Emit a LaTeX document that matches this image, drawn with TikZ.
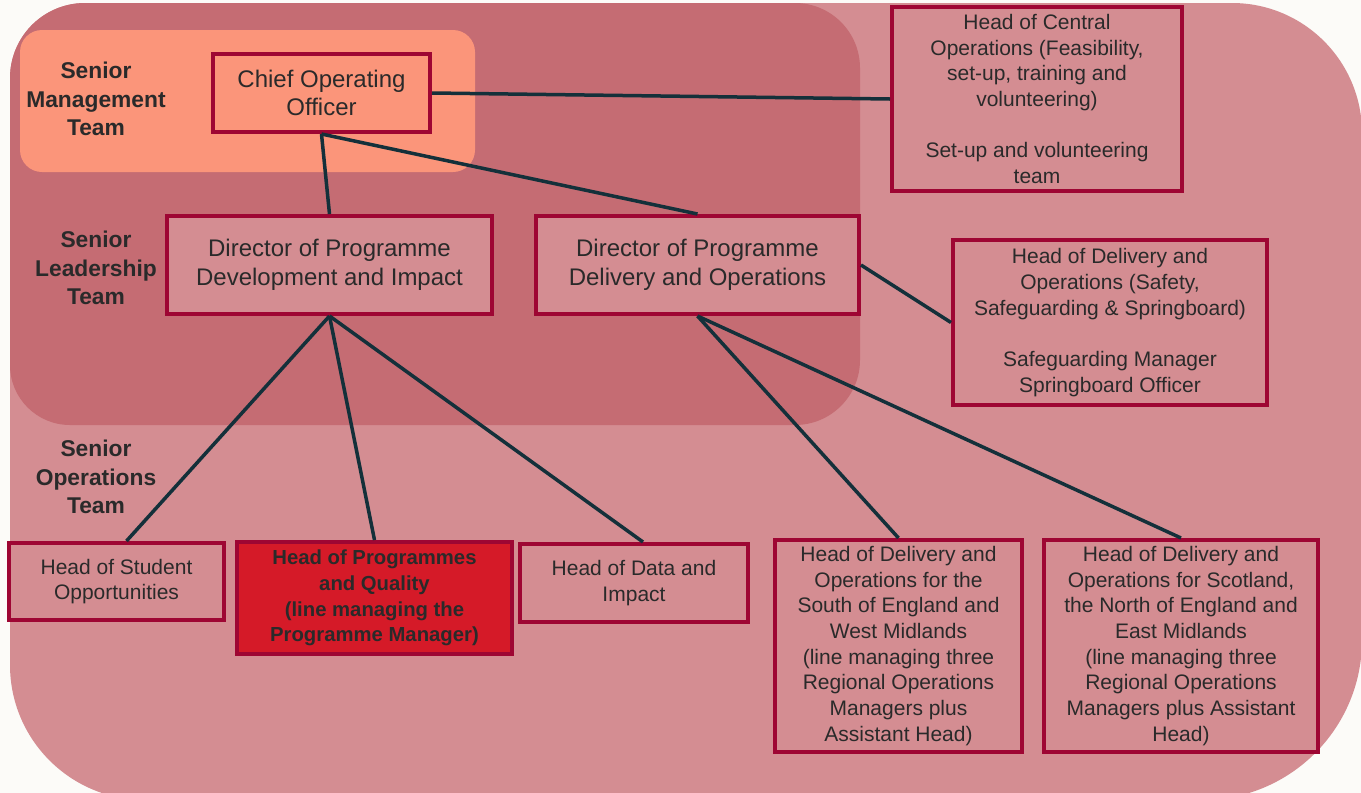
\documentclass[tikz,border=0pt]{standalone}
\usepackage{fontspec}
\setmainfont{Liberation Sans}
\begin{document}
\begin{tikzpicture}[x=1pt,y=-1pt,
  boxst/.style={draw=boxline,line width=4pt,fill=outerfill,align=center,text=txt,inner sep=0pt,
     font=\fontsize{21}{25.7}\selectfont},
  bigbox/.style={boxst,font=\fontsize{24}{28.5}\selectfont},
  teamlbl/.style={align=center,text=txt,font=\bfseries\fontsize{22.8}{28.8}\selectfont},
  conn/.style={draw=connc,line width=3.5pt}]
\definecolor{bg}{HTML}{FCFBF8}
\definecolor{outerfill}{HTML}{D48D92}
\definecolor{innerfill}{HTML}{C56C73}
\definecolor{smt}{HTML}{FB957A}
\definecolor{boxline}{HTML}{9E0633}
\definecolor{redbox}{HTML}{D51A28}
\definecolor{connc}{HTML}{14303A}
\definecolor{txt}{HTML}{2A2A2A}
\useasboundingbox (0,0) rectangle (1361,793);
\fill[bg] (0,0) rectangle (1361,793);
% outer region
\fill[outerfill] (10,662) -- (10,78) arc[start angle=180,end angle=270,radius=75]
  -- (1232,3) arc[start angle=270,end angle=360,radius=130]
  -- (1362,640) arc[start angle=0,end angle=90,radius=160]
  -- (145,800) arc[start angle=90,end angle=180,radius=135] -- cycle;
% inner region
\fill[innerfill] (10,365) -- (10,78) arc[start angle=180,end angle=270,radius=75]
  -- (795,3) arc[start angle=270,end angle=360,radius=65]
  -- (860,360) arc[start angle=0,end angle=90,radius=65]
  -- (70,425) arc[start angle=90,end angle=180,radius=60] -- cycle;
% senior management region
\fill[smt,rounded corners=22pt] (20,30) rectangle (475,172);
% team labels
\node[teamlbl] (lsmt) at (96,99) {Senior\\Management\\Team};
\node[teamlbl] (lslt) at (96,268) {Senior\\Leadership\\Team};
\node[teamlbl] (lsot) at (96,477) {Senior\\Operations\\Team};
% boxes
\node[bigbox,fill=smt,minimum width=217pt,minimum height=78pt] (coo) at (321.5,93) {Chief Operating\\Officer};
\node[bigbox,minimum width=325pt,minimum height=98pt] (ddev) at (329.5,265) {Director of Programme\\Development and Impact};
\node[bigbox,minimum width=323pt,minimum height=98pt] (ddel) at (697.5,265) {Director of Programme\\Delivery and Operations};
\node[boxst,minimum width=290pt,minimum height=184pt] (central) at (1037,99) {Head of Central\\Operations (Feasibility,\\set-up, training and\\volunteering)\\[25.7pt]Set-up and volunteering\\team};
\node[boxst,minimum width=314pt,minimum height=165pt] (safety) at (1110,322.5) {Head of Delivery and\\Operations (Safety,\\Safeguarding \& Springboard)\\[25.7pt]Safeguarding Manager\\Springboard Officer};
\node[boxst,minimum width=215pt,minimum height=77pt] (student) at (116.5,581.5) {Head of Student\\Opportunities};
\node[boxst,fill=redbox,minimum width=275pt,minimum height=112pt,font=\bfseries\fontsize{20.3}{25.7}\selectfont] (prog) at (374.5,598) {Head of Programmes\\and Quality\\(line managing the\\Programme Manager)};
\node[boxst,minimum width=228pt,minimum height=78pt] (data) at (634,583) {Head of Data and\\Impact};
\node[boxst,minimum width=247pt,minimum height=212pt] (south) at (898.5,646) {Head of Delivery and\\Operations for the\\South of England and\\West Midlands\\(line managing three\\Regional Operations\\Managers plus\\Assistant Head)};
\node[boxst,minimum width=274pt,minimum height=212pt] (scot) at (1181,646) {Head of Delivery and\\Operations for Scotland,\\the North of England and\\East Midlands\\(line managing three\\Regional Operations\\Managers plus Assistant\\Head)};
% connectors
\draw[conn] (coo.east) -- (central.west);
\draw[conn] (coo.south) -- (ddev.north);
\draw[conn] (coo.south) -- (ddel.north);
\draw[conn] (ddel.east) -- (safety.west);
\draw[conn] (ddev.south) -- ([xshift=10pt]student.north);
\draw[conn] (ddev.south) -- (prog.north);
\draw[conn] (ddev.south) -- ([xshift=9pt]data.north);
\draw[conn] (ddel.south) -- (south.north);
\draw[conn] (ddel.south) -- (scot.north);
\end{tikzpicture}
\end{document}
